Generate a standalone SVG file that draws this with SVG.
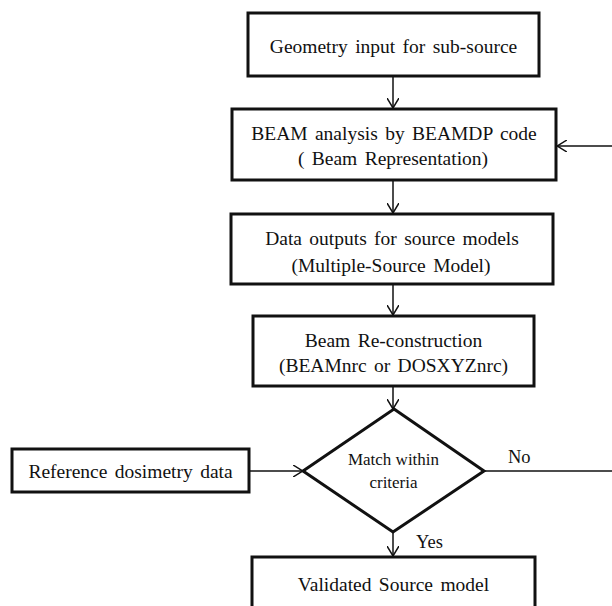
<svg xmlns="http://www.w3.org/2000/svg" width="612" height="606" viewBox="0 0 612 606">
<style>
  .box { fill: #ffffff; stroke: #111111; stroke-width: 3; }
  .t { font-family: "Liberation Serif", "Times New Roman", serif; font-size: 19.5px; fill: #111111; text-anchor: middle; word-spacing: 2.5px; }
  .s { font-family: "Liberation Serif", "Times New Roman", serif; font-size: 17px; fill: #111111; text-anchor: middle; }
  .lbl { font-family: "Liberation Serif", "Times New Roman", serif; font-size: 18.5px; fill: #111111; }
  .c { fill: none; stroke: #111111; stroke-width: 1.5; }
</style>
<defs>
  <marker id="arr" viewBox="0 0 10 12" refX="10" refY="6" markerWidth="10" markerHeight="12" markerUnits="userSpaceOnUse" orient="auto">
    <path d="M0,0 L10,6 L0,12" fill="none" stroke="#111111" stroke-width="1.5"/>
  </marker>
</defs>
<rect width="612" height="606" fill="#ffffff"/>
<g id="connectors">
  <line class="c" x1="393" y1="76" x2="393" y2="108" marker-end="url(#arr)"/>
  <line class="c" x1="393" y1="180" x2="393" y2="213" marker-end="url(#arr)"/>
  <line class="c" x1="393" y1="284" x2="393" y2="315" marker-end="url(#arr)"/>
  <line class="c" x1="393" y1="386" x2="393" y2="409" marker-end="url(#arr)"/>
  <line class="c" x1="393" y1="532" x2="393" y2="556" marker-end="url(#arr)"/>
  <line class="c" x1="249" y1="471" x2="303" y2="471" marker-end="url(#arr)"/>
  <line class="c" x1="484" y1="471" x2="612" y2="471"/>
  <line class="c" x1="612" y1="146" x2="557" y2="146" marker-end="url(#arr)"/>
  <text class="lbl" x="508" y="463">No</text>
  <text class="lbl" x="416" y="548">Yes</text>
</g>
<g id="geometry">
  <rect class="box" x="248" y="13" width="291" height="63"/>
  <text class="t" x="393.5" y="53">Geometry input for sub-source</text>
</g>
<g id="beam-analysis">
  <rect class="box" x="232" y="109" width="324" height="71"/>
  <text class="t" x="394" y="140">BEAM analysis by BEAMDP code</text>
  <text class="t" x="393" y="165">( Beam Representation)</text>
</g>
<g id="data-outputs">
  <rect class="box" x="231" y="214" width="322" height="70"/>
  <text class="t" x="392" y="245">Data outputs for source models</text>
  <text class="t" x="391" y="272">(Multiple-Source Model)</text>
</g>
<g id="beam-reconstruction">
  <rect class="box" x="253" y="316" width="281" height="70"/>
  <text class="t" x="393.5" y="347">Beam Re-construction</text>
  <text class="t" x="393.5" y="372">(BEAMnrc or DOSXYZnrc)</text>
</g>
<g id="match">
  <polygon class="box" points="394,409 484,471 393,532 303,471"/>
  <text class="s" x="393.5" y="465">Match within</text>
  <text class="s" x="393.5" y="488">criteria</text>
</g>
<g id="reference">
  <rect class="box" x="12" y="449" width="237" height="43"/>
  <text class="t" x="130.5" y="478">Reference dosimetry data</text>
</g>
<g id="validated">
  <rect class="box" x="252" y="557" width="283" height="62"/>
  <text class="t" x="393.5" y="591">Validated Source model</text>
</g>
</svg>
